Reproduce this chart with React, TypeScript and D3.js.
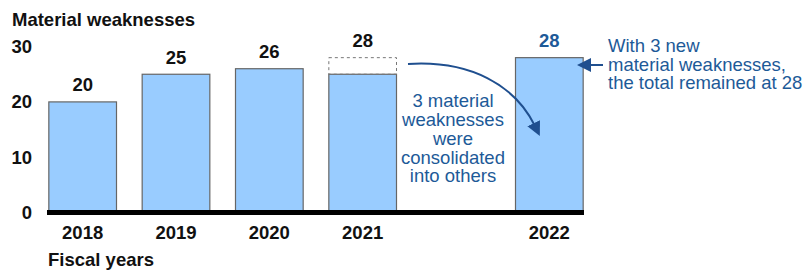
import React from "react";
import * as d3 from "d3";

const years = ["2018", "2019", "2020", "2021", "2022"];
const values = [20, 25, 26, 25, 28];
const labelValues = [20, 25, 26, 28, 28];
const dashedTop = [null, null, null, 28, null];
const yTicks = [0, 10, 20, 30];
const slots = ["2018", "2019", "2020", "2021", "gap", "2022"];
const consolidatedLines = ["3 material", "weaknesses", "were", "consolidated", "into others"];
const newLines = ["With 3 new", "material weaknesses,", "the total remained at 28"];

const W = 807;
const H = 272;
const FONT = "'Liberation Sans', Arial, sans-serif";
const BLUE = "#1d5a98";
const ARROW = "#1f4f8f";
const FS = 18.5;

export default function App() {
  const x = d3.scaleBand<string>().domain(slots).range([36, 596]).padding(0);
  const bw = x.bandwidth() * 0.725;
  const cx = (k: string) => (x(k) as number) + x.bandwidth() / 2;
  const y = d3.scaleLinear().domain([0, 30]).range([212.5, 46.6]);

  const curve = d3.path();
  curve.moveTo(408, 64);
  curve.bezierCurveTo(470, 60, 515, 85, 535, 126);

  return (
    <svg width={W} height={H} style={{ position: "absolute", left: 0, top: 0 }} fontFamily={FONT}>
      <defs>
        <marker id="ah2" markerWidth="14" markerHeight="14" refX="3" refY="7" orient="auto" markerUnits="userSpaceOnUse" viewBox="0 0 14 14">
          <path d="M0,0 L14,7 L0,14 z" fill={ARROW} />
        </marker>
      </defs>
      <text x={12} y={26} fontSize={FS} fontWeight="bold" fill="#111">Material weaknesses</text>
      {yTicks.map((t) => (
        <text key={t} x={32} y={y(t) + 6.5} fontSize={FS} fontWeight="bold" textAnchor="end" fill="#111">{t}</text>
      ))}
      {years.map((yr, i) => (
        <g key={yr}>
          <rect x={cx(yr) - bw / 2} y={y(values[i])} width={bw} height={y(0) - y(values[i])} fill="#99ccff" stroke="#666" strokeWidth={1.2} />
          {dashedTop[i] != null && (
            <rect x={cx(yr) - bw / 2} y={y(dashedTop[i] as number)} width={bw} height={y(values[i]) - y(dashedTop[i] as number)} fill="none" stroke="#777" strokeWidth={1} strokeDasharray="3,3" />
          )}
          <text x={cx(yr)} y={y(labelValues[i]) - 10.5} fontSize={FS} fontWeight="bold" textAnchor="middle" fill={yr === "2022" ? BLUE : "#111"}>{labelValues[i]}</text>
          <text x={cx(yr)} y={239} fontSize={FS} fontWeight="bold" textAnchor="middle" fill="#111">{yr}</text>
        </g>
      ))}
      <line x1={47} x2={584} y1={y(0)} y2={y(0)} stroke="#000" strokeWidth={5} />
      <text x={48} y={265.5} fontSize={FS} fontWeight="bold" fill="#111">Fiscal years</text>
      {consolidatedLines.map((l, i) => (
        <text key={l} x={453} y={107.3 + i * 18.75} fontSize={FS} textAnchor="middle" fill={BLUE}>{l}</text>
      ))}
      {newLines.map((l, i) => (
        <text key={l} x={608} y={52.3 + i * 18.4} fontSize={FS} fill={BLUE}>{l}</text>
      ))}
      <path d={curve.toString()} fill="none" stroke={ARROW} strokeWidth={2} markerEnd="url(#ah2)" />
      <line x1={603} y1={65} x2={588} y2={65} stroke={ARROW} strokeWidth={2} markerEnd="url(#ah2)" />
    </svg>
  );
}
